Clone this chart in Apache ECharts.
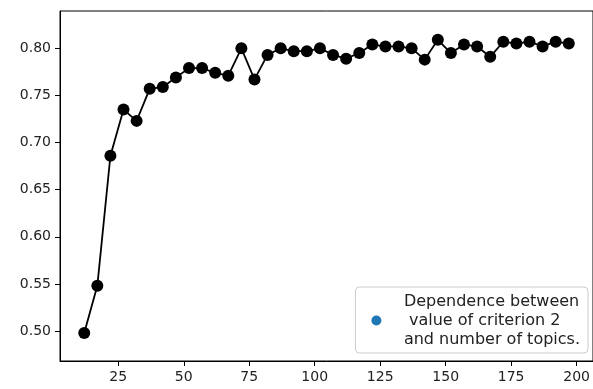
<!DOCTYPE html>
<html>
<head>
<meta charset="utf-8">
<script src="https://cdn.jsdelivr.net/npm/echarts@6/dist/echarts.min.js"></script>
<style>
  html, body { margin: 0; padding: 0; background: #fff; }
  #chart { width: 593px; height: 389px; }
</style>
</head>
<body>
<div id="chart"></div>
<script>
// number of topics
var topics = [12, 17, 22, 27, 32, 37, 42, 47, 52, 57, 62, 67, 72, 77, 82, 87, 92,
  97, 102, 107, 112, 117, 122, 127, 132, 137, 142, 147, 152, 157, 162, 167, 172, 177, 182, 187, 192, 197];
// value of criterion 2
var criterion = [0.498, 0.548, 0.686, 0.735, 0.723, 0.757, 0.759, 0.769, 0.779, 0.779, 0.774, 0.771, 0.800, 0.767, 0.793, 0.800, 0.797,
  0.797, 0.800, 0.793, 0.789, 0.795, 0.804, 0.802, 0.802, 0.800, 0.788, 0.809, 0.795, 0.804, 0.802, 0.791, 0.807, 0.805, 0.807, 0.802, 0.807, 0.805];
var xTicks = [25, 50, 75, 100, 125, 150, 175, 200];
var yTicks = [0.50, 0.55, 0.60, 0.65, 0.70, 0.75, 0.80];
var legendName = 'Dependence between\n value of criterion 2\nand number of topics.';

var chart = echarts.init(document.getElementById('chart'));

var points = topics.map(function (t, i) { return [t, criterion[i]]; });

var axisFont = { fontFamily: 'DejaVu Sans', fontSize: 14, color: '#222' };

chart.setOption({
  animation: false,
  grid: {
    left: 60, top: 11, right: -4, bottom: 28,
    show: true, borderColor: '#000', borderWidth: 1, backgroundColor: '#fff'
  },
  legend: {
    data: [legendName],
    right: 5, bottom: 36,
    orient: 'vertical',
    icon: 'circle',
    itemWidth: 45, itemHeight: 10,
    padding: [5, 8, 4, 16],
    backgroundColor: 'rgba(255,255,255,0.8)',
    borderColor: '#cccccc', borderWidth: 1, borderRadius: 4,
    itemStyle: { opacity: 1 },
    textStyle: { fontFamily: 'DejaVu Sans', fontSize: 16, lineHeight: 19, color: '#222' }
  },
  xAxis: {
    type: 'value',
    min: 2.75, max: 206.25,
    splitLine: { show: false },
    axisLine: { show: true, onZero: false, lineStyle: { color: '#000', width: 1 } },
    axisTick: { show: true, length: 5, customValues: xTicks, lineStyle: { color: '#000' } },
    axisLabel: Object.assign({ margin: 9, customValues: xTicks }, axisFont)
  },
  yAxis: {
    type: 'value',
    min: 0.4682, max: 0.8396,
    splitLine: { show: false },
    axisLine: { show: true, onZero: false, lineStyle: { color: '#000', width: 1 } },
    axisTick: { show: true, length: 5, customValues: yTicks, lineStyle: { color: '#000' } },
    axisLabel: Object.assign({
      margin: 9, customValues: yTicks,
      formatter: function (v) { return v.toFixed(2); }
    }, axisFont)
  },
  series: [
    {
      name: legendName,
      type: 'scatter',
      data: points,
      symbolSize: 8,
      itemStyle: { color: '#1f77b4', opacity: 1 },
      z: 1
    },
    {
      name: 'line',
      type: 'line',
      data: points,
      symbol: 'circle',
      symbolSize: 12,
      showAllSymbol: true,
      lineStyle: { color: '#000', width: 1.8 },
      itemStyle: { color: '#000', borderWidth: 0 },
      z: 3
    }
  ]
});
</script>
</body>
</html>
